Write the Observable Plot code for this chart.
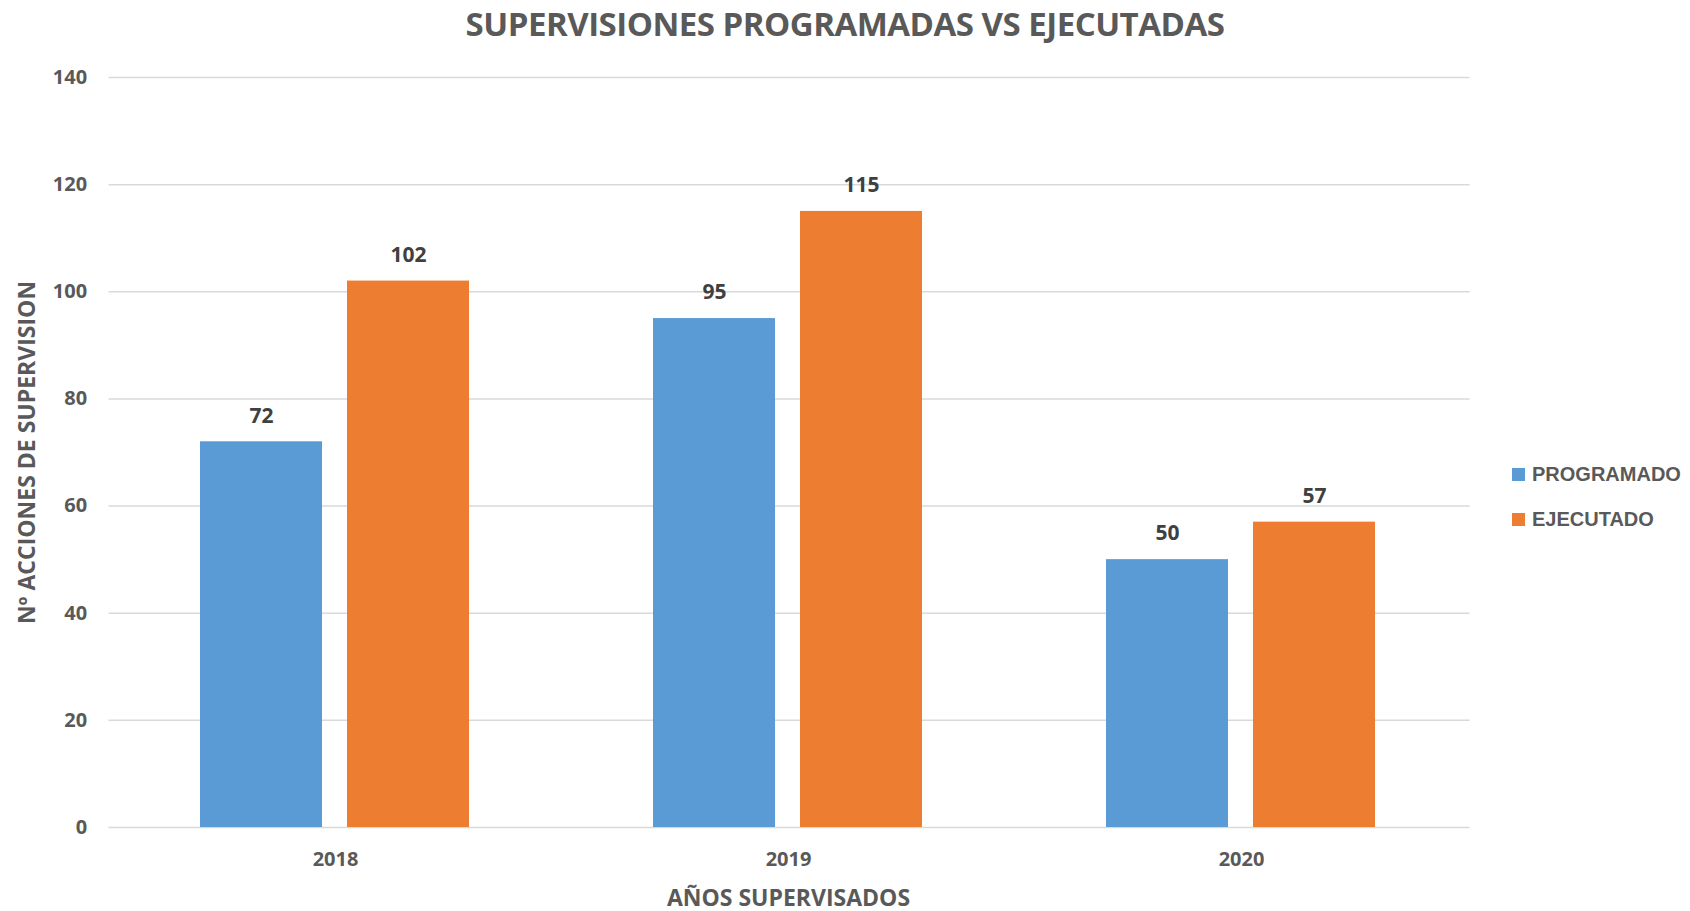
<!DOCTYPE html>
<html><head><meta charset="utf-8">
<script src="https://cdn.jsdelivr.net/npm/d3@7"></script>
<script src="https://cdn.jsdelivr.net/npm/@observablehq/plot@0.6"></script>
<style>
body{margin:0;background:#fff;width:1690px;height:911px;overflow:hidden;position:relative;font-family:"Open Sans",sans-serif;}
#title{height:50px;line-height:48px;text-align:center;font-size:33px;font-weight:bold;color:#595959;letter-spacing:-0.5px;}
#legend{position:absolute;left:1512px;top:452px;font-family:"Liberation Sans",sans-serif;font-weight:bold;font-size:20px;color:#595959;}
#legend .it{display:flex;align-items:center;height:45px;}
#legend .sw{width:13px;height:13px;margin-right:7px;}
</style></head><body>
<div id="title">SUPERVISIONES PROGRAMADAS VS EJECUTADAS</div>
<div id="chart"></div>
<div id="legend"></div>
<script>
const years = ["2018", "2019", "2020"];
const seriesNames = ["PROGRAMADO", "EJECUTADO"];
const programado = [72, 95, 50];
const ejecutado = [102, 115, 57];
const seriesColors = ["#5B9BD5", "#ED7D31"];
const yTicks = [0, 20, 40, 60, 80, 100, 120, 140];
const xLabel = "AÑOS SUPERVISADOS";
const yLabel = "Nº ACCIONES DE SUPERVISION";

const rows = [];
years.forEach((yr, i) => {
  rows.push({year: yr, series: seriesNames[0], value: programado[i]});
  rows.push({year: yr, series: seriesNames[1], value: ejecutado[i]});
});

const W = 1690, H = 861, mL = 108, mR = 221;
const outerPad = 0.2015, innerPad = 0.403;
const step = (W - mL - mR) / years.length;
const facetOffset = outerPad * step; // distance from plot edge to first facet frame

const chart = Plot.plot({
  width: W,
  height: H,
  marginLeft: mL,
  marginRight: mR,
  marginTop: 27,
  marginBottom: 84,
  style: {fontFamily: '"Open Sans", sans-serif', fontWeight: "bold", fontSize: "20px", color: "#595959", background: "transparent"},
  fx: {domain: years, paddingInner: innerPad, paddingOuter: outerPad, label: xLabel},
  x: {domain: seriesNames, paddingInner: 0.169, paddingOuter: 0, axis: null},
  y: {domain: [0, 140], ticks: yTicks, label: yLabel, axis: null},
  color: {domain: seriesNames, range: seriesColors},
  marks: [
    Plot.axisY(yTicks, {text: null, tickSize: -(W - mL - mR), dx: -facetOffset, stroke: "#d9d9d9", strokeWidth: 1.5, label: null}),
    Plot.barY(rows, {fx: "year", x: "series", y: "value", fill: "series"}),
    Plot.text(rows, {fx: "year", x: "series", y: "value", text: d => String(d.value), dy: -26, fill: "#404040", fontSize: 21, fontWeight: "bold"}),
    Plot.axisY(yTicks, {tickSize: 0, tickPadding: 22 + facetOffset, fontSize: 20, label: yLabel, labelAnchor: "center", labelArrow: "none", labelOffset: 182}),
    Plot.axisFx({anchor: "bottom", tickSize: 0, tickPadding: 24, fontSize: 20, label: xLabel, labelAnchor: "center", labelArrow: "none", labelOffset: 78})
  ]
});
document.getElementById("chart").appendChild(chart);
chart.querySelectorAll('[aria-label="y-axis label"] text, [aria-label="fx-axis label"] text').forEach(t => t.setAttribute("font-size", "23"));

const lg = document.getElementById("legend");
seriesNames.forEach((n, i) => {
  const it = document.createElement("div"); it.className = "it";
  const sw = document.createElement("div"); sw.className = "sw"; sw.style.background = seriesColors[i];
  const tx = document.createElement("span"); tx.textContent = n;
  it.appendChild(sw); it.appendChild(tx); lg.appendChild(it);
});
</script>
</body></html>
